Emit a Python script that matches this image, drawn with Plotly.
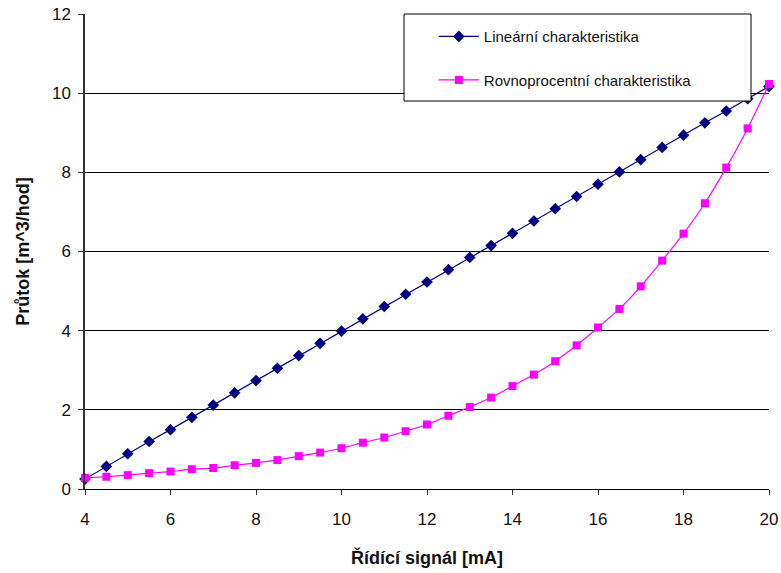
import plotly.graph_objects as go

# Control signal (mA)
signal_ma = [4 + 0.5 * i for i in range(33)]

# Flow for the linear valve characteristic (m^3/hod)
linear_flow = [0.25, 0.57, 0.89, 1.20, 1.50, 1.81, 2.12, 2.43, 2.74, 3.05, 3.37,
               3.68, 3.99, 4.30, 4.61, 4.92, 5.23, 5.54, 5.85, 6.15, 6.46, 6.77,
               7.08, 7.39, 7.70, 8.01, 8.32, 8.63, 8.94, 9.25, 9.55, 9.86, 10.17]

# Flow for the equal-percentage valve characteristic (m^3/hod)
equal_pct_flow = [0.28, 0.31, 0.35, 0.40, 0.44, 0.50, 0.53, 0.60, 0.66, 0.73, 0.83,
                  0.92, 1.03, 1.17, 1.30, 1.46, 1.63, 1.85, 2.07, 2.31, 2.60, 2.89,
                  3.23, 3.63, 4.08, 4.55, 5.12, 5.77, 6.45, 7.22, 8.12, 9.11, 10.23]

x_ticks = [4, 6, 8, 10, 12, 14, 16, 18, 20]
y_ticks = [0, 2, 4, 6, 8, 10, 12]

fig = go.Figure()
fig.add_trace(go.Scatter(
    x=signal_ma, y=linear_flow, mode="lines+markers",
    name="Lineární charakteristika", legendgroup="a",
    line=dict(color="#000080", width=1.2),
    marker=dict(symbol="diamond", size=9, color="#000080"),
    cliponaxis=False,
))
fig.add_trace(go.Scatter(
    x=signal_ma, y=equal_pct_flow, mode="lines+markers",
    name="Rovnoprocentní charakteristika", legendgroup="b",
    line=dict(color="#FF00FF", width=1.2, shape="spline", smoothing=0.6),
    marker=dict(symbol="square", size=8, color="#FF00FF"),
    cliponaxis=False,
))

# Opaque legend frame drawn over the plot area
fig.add_shape(
    type="rect", xref="paper", yref="paper",
    x0=0.4664, x1=0.9737, y0=0.8168, y1=1.0,
    line=dict(color="#000000", width=1), fillcolor="white", layer="above",
)

fig.update_layout(
    width=781, height=573,
    margin=dict(l=85, r=12, t=14, b=84),
    paper_bgcolor="white", plot_bgcolor="white",
    font=dict(family="Liberation Sans, Arial, sans-serif", color="#111111"),
    legend=dict(
        x=0.51, y=0.987, xanchor="left", yanchor="top",
        borderwidth=0, bgcolor="rgba(0,0,0,0)",
        font=dict(size=15, color="#111111"),
        tracegroupgap=21, itemwidth=40,
    ),
    xaxis=dict(
        range=[4, 20], tickvals=x_ticks, ticks="outside", ticklen=5,
        tickcolor="#333333", showgrid=False, zeroline=False,
        showline=True, linecolor="#000000", linewidth=1,
        tickfont=dict(size=17), automargin=False, ticklabelstandoff=10,
        title=dict(text="<b>Řídící signál [mA]</b>", font=dict(size=18), standoff=22),
    ),
    yaxis=dict(
        range=[0, 12], tickvals=y_ticks, ticks="outside", ticklen=5,
        tickcolor="#333333", showgrid=True, gridcolor="#000000", gridwidth=1,
        zeroline=False, showline=True, linecolor="#333333", linewidth=1.5,
        tickfont=dict(size=17), automargin=False, ticklabelstandoff=4,
        title=dict(text="<b>Průtok [m^3/hod]</b>", font=dict(size=18), standoff=18),
    ),
)

fig.write_html("out.html")
